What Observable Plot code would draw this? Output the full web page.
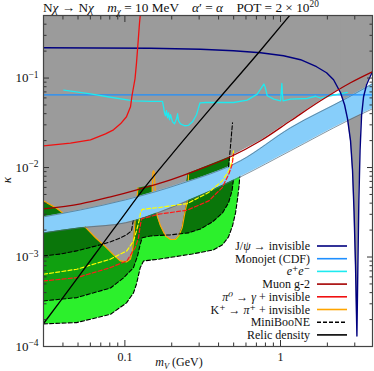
<!DOCTYPE html>
<html><head><meta charset="utf-8">
<script src="https://cdn.jsdelivr.net/npm/d3@7"></script>
<script src="https://cdn.jsdelivr.net/npm/@observablehq/plot@0.6"></script>
<style>html,body{margin:0;padding:0;background:#fff}svg{display:block}</style>
</head><body><div id="chart"></div>
<script>
const FONT = "'Liberation Serif','DejaVu Serif',serif";
// ---------- axes ----------
const xDomain = [0.03, 3.9];
const yDomain = [1e-4, 0.5];
const xMajor = [0.1, 1];
const xMajorLabels = ["0.1", "1"];
const xMinor = [0.04,0.05,0.06,0.07,0.08,0.09,0.2,0.3,0.4,0.5,0.6,0.7,0.8,0.9,2,3];
const yMajor = [1e-4, 1e-3, 1e-2, 1e-1];
const yMajorLabels = ["10⁻⁴", "10⁻³", "10⁻²", "10⁻¹"];
const yMinor = [2e-4,3e-4,4e-4,5e-4,6e-4,7e-4,8e-4,9e-4,
  2e-3,3e-3,4e-3,5e-3,6e-3,7e-3,8e-3,9e-3,
  2e-2,3e-2,4e-2,5e-2,6e-2,7e-2,8e-2,9e-2, 0.2,0.3,0.4];

// ---------- curves [m_V (GeV), kappa] ----------
const muonG2 = [[0.03,0.00345],[0.0519,0.00393],[0.0809,0.0047],[0.126,0.00578],[0.1965,0.00729],[0.3062,0.00967],[0.4774,0.0132],[0.7443,0.0199],[1.16,0.0333],[1.808,0.0557],[2.818,0.0886],[3.9,0.1176]];
const bandX = [0.03,0.0519,0.1009,0.2279,0.5537,1.16,2.696,3.9];
const bandTop = [0.00281,0.00336,0.00435,0.00657,0.0119,0.0278,0.0602,0.0863];
const bandBottom = [0.00186,0.00212,0.00241,0.00393,0.00787,0.0154,0.0333,0.0453];
const excludedLower = [[0.03,0.00424],[0.0364,0.0035],[0.0403,0.00307],[0.0519,0.00328],[0.0697,0.00363],[0.1009,0.00413],[0.1206,0.00458],[0.1215,0.00585],[0.1357,0.00608],[0.1495,0.00632],[0.1506,0.00508],[0.1965,0.00578],[0.2489,0.00657],[0.2546,0.0085],[0.3062,0.00967],[0.4774,0.0132],[0.7443,0.0199],[1.16,0.0333],[1.808,0.0557],[2.818,0.0886],[3.9,0.1176]];
const kaonGrayLeft = [[0.0567,0.00209,0.00267],[0.0648,0.00164,0.00281],[0.0751,0.0013,0.00296],[0.0858,0.00103,0.00311],[0.0937,0.000904,0.00328],[0.1024,0.000882,0.00345],[0.1087,0.000952,0.00354],[0.112,0.00117,0.00363],[0.1145,0.00172,0.00363],[0.117,0.00288,0.00373]];
const kaonGrayWindow = [[0.1585,0.00373,0.00424],[0.1613,0.00288,0.00435],[0.1694,0.00223,0.00447],[0.1824,0.00172,0.00458],[0.1965,0.00157,0.0047],[0.2115,0.00157,0.00482],[0.222,0.00172,0.00495],[0.2335,0.00213,0.00508],[0.2453,0.00342,0.00521],[0.2515,0.00406,0.00535],[0.2537,0.00508,0.00549]];
const kaonLine1 = [[0.03,0.00424],[0.0364,0.0035],[0.0403,0.00307],[0.0482,0.00257],[0.0567,0.00209],[0.0648,0.00164],[0.0751,0.0013],[0.0858,0.00103],[0.0937,0.000904],[0.1024,0.000882],[0.1087,0.000952],[0.112,0.00117],[0.1145,0.00172],[0.117,0.00288],[0.1188,0.00424],[0.1215,0.00593]];
const kaonLine2 = [[0.1495,0.00495],[0.1512,0.00873],[0.1528,0.00919],[0.1546,0.00873],[0.1573,0.00482],[0.1613,0.00288],[0.1694,0.00223],[0.1824,0.00172],[0.1965,0.00157],[0.2115,0.00157],[0.222,0.00172],[0.2335,0.00213],[0.2453,0.00342],[0.2515,0.00406],[0.2546,0.00549],[0.2564,0.00829]];
const jpsi = [[0.03,0.2183],[0.1462,0.2154],[0.3062,0.2099],[0.499,0.202],[0.7443,0.1919],[1.046,0.1776],[1.345,0.1602],[1.704,0.1338],[1.976,0.1146],[2.192,0.0957],[2.431,0.0685],[2.579,0.0503],[2.696,0.035],[2.818,0.0199],[2.903,0.00919],[2.968,0.00328],[3.034,0.000795],[3.097,0.000131],[3.141,0.000795],[3.187,0.00424],[3.244,0.0154],[3.317,0.0379],[3.417,0.0618],[3.573,0.0842],[3.735,0.1008],[3.9,0.1176]];
const jpsiDip = jpsi.slice(10);
const monojet = [0.065];
const eePlus = [[0.0405,0.0734],[0.0601,0.0667],[0.0809,0.061],[0.1136,0.0557],[0.1462,0.055],[0.1745,0.055],[0.1771,0.0478],[0.1798,0.0409],[0.1824,0.0379],[0.1852,0.0431],[0.1879,0.036],[0.1907,0.0409],[0.1936,0.0342],[0.1965,0.0389],[0.2024,0.0324],[0.2085,0.0308],[0.2148,0.035],[0.218,0.0399],[0.2212,0.0333],[0.2279,0.0308],[0.2417,0.0293],[0.2564,0.0296],[0.272,0.0324],[0.2886,0.0389],[0.2972,0.0465],[0.304,0.0529],[0.33,0.0533],[0.499,0.0533],[0.6111,0.0567],[0.7085,0.0662],[0.7816,0.0857],[0.7955,0.0799],[0.8218,0.0634],[0.9062,0.0582],[1.0006,0.0557],[1.0125,0.0721],[1.02,0.087],[1.0276,0.0685],[1.038,0.0557],[1.16,0.0582],[1.485,0.0591],[1.68,0.0626],[1.808,0.0597],[2.202,0.0645],[2.685,0.069]];
const pi0 = [[0.03,0.0175],[0.0447,0.0187],[0.0601,0.0204],[0.0751,0.0238],[0.0845,0.0264],[0.0937,0.0308],[0.1024,0.0369],[0.1087,0.0478],[0.1111,0.0634],[0.1162,0.0982],[0.1188,0.1483],[0.1215,0.2483],[0.1242,0.4155],[0.1255,0.498]];
const relic = [[0.0302,0.000183],[0.0386,0.000323],[0.0519,0.000647],[0.0697,0.0013],[0.0937,0.0026],[0.126,0.00521],[0.1965,0.0135],[0.3767,0.0516],[0.7225,0.1919],[1.143,0.498]];
// MiniBooNE contours
const mbLow = [[0.03,0.000179],[0.0489,0.000185],[0.0809,0.000229],[0.1024,0.000307],[0.1136,0.000397],[0.1188,0.0005],[0.1255,0.000761],[0.1318,0.000904],[0.1645,0.000945],[0.2709,0.00108],[0.3712,0.0012],[0.424,0.00137],[0.4634,0.00168],[0.4917,0.00223],[0.514,0.00311],[0.5297,0.00447],[0.5416,0.00624],[0.5495,0.00873]];
const mbMid = [[0.03,0.000323],[0.0491,0.000352],[0.0809,0.000451],[0.098,0.000584],[0.1136,0.000761],[0.1206,0.00103],[0.1255,0.00139],[0.1292,0.00164],[0.1462,0.00172],[0.1965,0.00177],[0.2564,0.00186],[0.3062,0.00206],[0.3657,0.00247],[0.424,0.00311],[0.4634,0.00403],[0.4882,0.00549],[0.499,0.00747]];
const mbHighLeft = [[0.03,0.00103],[0.0386,0.00108],[0.0489,0.00117],[0.0697,0.00137],[0.0809,0.00148],[0.0937,0.00164],[0.1024,0.00177],[0.1103,0.00196],[0.1145,0.00288]];
const mbHighRight = [[0.4634,0.0102],[0.4704,0.0132],[0.4774,0.0175],[0.4845,0.0238],[0.4917,0.0316]];
const lightGreenRegion = [...mbLow, [0.5495,0.00967],[0.4498,0.00919],[0.4498,0.5],[0.03,0.5]];
const midGreenRegion = [[0.03,0.000323],[0.0491,0.000352],[0.0809,0.000451],[0.098,0.000584],[0.1136,0.000761],[0.1206,0.00103],[0.1255,0.00139],[0.1288,0.00159],[0.1288,0.5],[0.03,0.5]];
const darkGreenRegion = [[0.03,0.00103],[0.0386,0.00108],[0.0489,0.00117],[0.0697,0.00137],[0.0809,0.00148],[0.0937,0.00164],[0.1024,0.00177],[0.1136,0.00159],[0.126,0.00151],[0.1292,0.00164],[0.1462,0.00172],[0.1965,0.00177],[0.2564,0.00186],[0.3062,0.00206],[0.3657,0.00247],[0.424,0.00311],[0.4634,0.00403],[0.4882,0.00549],[0.499,0.00747],[0.499,0.00967],[0.4704,0.00967],[0.4704,0.5],[0.03,0.5]];
const yellowDash = [[0.03,0.000642],[0.0491,0.00073],[0.0805,0.000945],[0.1029,0.00117],[0.1136,0.00151],[0.1188,0.00196],[0.1233,0.00253],[0.126,0.00311],[0.1292,0.00341],[0.1462,0.0035],[0.1652,0.00357],[0.2515,0.00396],[0.3447,0.00525],[0.4222,0.0071],[0.4656,0.00919],[0.4896,0.0119],[0.499,0.0154]];
const redDash = [[0.03,0.00054],[0.0491,0.000588],[0.0805,0.000761],[0.1029,0.000904],[0.1165,0.00127],[0.1224,0.00165],[0.1251,0.00217],[0.1279,0.00267],[0.1462,0.00284],[0.1652,0.00301],[0.2515,0.00334],[0.3463,0.00424],[0.4222,0.00597],[0.4656,0.00844],[0.4896,0.0109],[0.499,0.0142]];

// ---------- legend ----------
const legendLabels = ["J/ψ → invisible","Monojet (CDF)","e⁺e⁻","Muon g-2","π⁰ → γ + invisible","K⁺ → π⁺ + invisible","MiniBooNE","Relic density"];
const C = {
  gray:"#9b9b9b", band:"#87cefa", bandEdge:"#4d6a7c", dark:"#0a760a", mid:"#10a010", light:"#2cf02c",
  jpsi:"#00007f", mono:"#1e8fff", ee:"#1eeaf0", g2:"#a40000", pi0:"#f01010", kaon:"#ffa500",
  mb:"#000", relic:"#000"
};
const legendStyles = [
  {stroke:C.jpsi},{stroke:C.mono},{stroke:C.ee},{stroke:C.g2},{stroke:C.pi0},{stroke:C.kaon},{stroke:C.mb,dash:"4,2"},{stroke:C.relic}
];

const X = d => d[0], Y = d => d[1];
const bandTable = bandX.map((x, i) => ({x, lo: bandBottom[i], hi: bandTop[i]}));
const dash = "4,2.2";

function tickAxes(A, anchors, values, size) {
  return anchors.map(a => A(values, {anchor: a, tickSize: -size, tickFormat: () => "", label: null, stroke: "#333"}));
}

const chart = Plot.plot({
  width: 374, height: 371,
  marginLeft: 43, marginRight: 2, marginTop: 15, marginBottom: 25,
  x: {type: "log", domain: xDomain},
  y: {type: "log", domain: yDomain},
  style: {fontFamily: FONT, fontSize: "12px", color: "#111", background: "#fff"},
  marks: [
    Plot.line(lightGreenRegion, {x: X, y: Y, fill: C.light, stroke: "none", clip: true}),
    Plot.line(midGreenRegion, {x: X, y: Y, fill: C.mid, stroke: "none", clip: true}),
    Plot.line(darkGreenRegion, {x: X, y: Y, fill: C.dark, stroke: "none", clip: true}),
    Plot.areaY(excludedLower, {x: X, y1: Y, y2: yDomain[1], fill: C.gray, clip: true}),
    Plot.areaY(kaonGrayLeft, {x: d => d[0], y1: d => d[1], y2: d => d[2], fill: C.gray, clip: true}),
    Plot.areaY(kaonGrayWindow, {x: d => d[0], y1: d => d[1], y2: d => d[2], fill: C.gray, clip: true}),
    Plot.areaY(jpsiDip, {x: X, y1: Y, y2: yDomain[1], fill: C.gray, clip: true}),
    Plot.line(kaonLine1, {x: X, y: Y, stroke: C.kaon, strokeWidth: 1.2, clip: true}),
    Plot.line(kaonLine2, {x: X, y: Y, stroke: C.kaon, strokeWidth: 1.2, clip: true}),
    Plot.line(mbHighLeft, {x: X, y: Y, stroke: C.mb, strokeWidth: 1.1, strokeDasharray: dash, clip: true}),
    Plot.line(mbMid, {x: X, y: Y, stroke: C.mb, strokeWidth: 1.1, strokeDasharray: dash, clip: true}),
    Plot.line(mbLow, {x: X, y: Y, stroke: C.mb, strokeWidth: 1.1, strokeDasharray: dash, clip: true}),
    Plot.areaY(bandTable, {x: "x", y1: "lo", y2: "hi", fill: C.band, curve: "monotone-x", clip: true}),
    Plot.line(bandTable, {x: "x", y: "hi", stroke: C.bandEdge, strokeWidth: 0.7, curve: "monotone-x", clip: true}),
    Plot.line(bandTable, {x: "x", y: "lo", stroke: C.bandEdge, strokeWidth: 0.7, curve: "monotone-x", clip: true}),
    Plot.line(yellowDash, {x: X, y: Y, stroke: "#ffff00", strokeWidth: 1.2, strokeDasharray: dash, clip: true}),
    Plot.line(redDash, {x: X, y: Y, stroke: "#ff1a1a", strokeWidth: 1.2, strokeDasharray: dash, clip: true}),
    Plot.line(mbHighRight, {x: X, y: Y, stroke: C.mb, strokeWidth: 1.1, strokeDasharray: dash, clip: true}),
    Plot.ruleY(monojet, {stroke: C.mono, strokeWidth: 1.3}),
    Plot.line(eePlus, {x: X, y: Y, stroke: C.ee, strokeWidth: 1.3, clip: true}),
    Plot.line(jpsi, {x: X, y: Y, stroke: C.jpsi, strokeWidth: 1.4, clip: true}),
    Plot.line(muonG2, {x: X, y: Y, stroke: C.g2, strokeWidth: 1.3, curve: "monotone-x", clip: true}),
    Plot.line(pi0, {x: X, y: Y, stroke: C.pi0, strokeWidth: 1.3, clip: true}),
    Plot.line(relic, {x: X, y: Y, stroke: C.relic, strokeWidth: 1.3, curve: "monotone-x", clip: true}),
    ...tickAxes(Plot.axisY, ["left","right"], yMajor, 6),
    ...tickAxes(Plot.axisY, ["left","right"], yMinor, 3.5),
    ...tickAxes(Plot.axisX, ["bottom","top"], xMajor, 6),
    ...tickAxes(Plot.axisX, ["bottom","top"], xMinor, 3.5),
    Plot.axisY(yMajor, {anchor: "left", tickSize: 0, tickPadding: 5, label: null, fontSize: 13,
      tickFormat: d => yMajorLabels[yMajor.indexOf(d)]}),
    Plot.axisX(xMajor, {anchor: "bottom", tickSize: 0, tickPadding: 6, label: null, fontSize: 12,
      tickFormat: d => xMajorLabels[xMajor.indexOf(d)]}),
    Plot.frame({stroke: "#444", strokeWidth: 1.2})
  ]
});
document.getElementById("chart").append(chart);

// ---------- text with math styling ----------
const svg = d3.select(chart);
const supMap = {"⁻":"−","⁰":"0","¹":"1","²":"2","³":"3","⁴":"4"};
svg.selectAll("text").each(function() {
  const m = this.textContent.match(/^10([⁻⁰¹²³⁴]+)$/);
  if (!m) return;
  const t = d3.select(this); t.text("10");
  t.append("tspan").attr("dy", "-0.45em").attr("font-size", "9.5px").text([...m[1]].map(c => supMap[c]).join(""));
});

function rich(g, x, y, parts, size, anchor) {
  const t = g.append("text").attr("x", x).attr("y", y).attr("text-anchor", anchor || "start")
    .attr("font-family", FONT).attr("font-size", size).attr("fill", "#111").style("white-space", "pre");
  let shift = 0;
  for (const [s, st] of parts) {
    const ts = t.append("tspan").text(s);
    let target = 0;
    if (st.includes("sup")) target = -size * 0.36;
    else if (st.includes("sub")) target = size * 0.22;
    if (target) ts.attr("font-size", size * 0.7);
    if (st.startsWith("i")) ts.attr("font-style", "italic");
    const dy = target - shift;
    if (dy) ts.attr("dy", dy);
    shift = target;
  }
  return t;
}
const g = svg.append("g");
rich(g, 43, 12, [["N",""],["χ","i"],[" → N",""],["χ","i"],["    ",""],["m","i"],["χ","isub"],[" = 10 MeV    ",""],["α","i"],["′ = ",""],["α","i"],["    POT = 2 × 10",""],["20","sup"]], 13.3);
rich(g, 179, 366, [["m","i"],["V","isub"],[" (GeV)",""]], 12, "middle");
g.append("text").attr("transform", "translate(11,180) rotate(-90)").attr("text-anchor", "middle")
  .attr("font-family", FONT).attr("font-size", 13).attr("font-style", "italic").attr("fill", "#111").text("κ");

const legendParts = [
  [["J/",""],["ψ","i"],[" → invisible",""]],
  [["Monojet (CDF)",""]],
  [["e⁺e⁻","i"]],
  [["Muon g-2",""]],
  [["π⁰","i"],[" → ",""],["γ","i"],[" + invisible",""]],
  [["K⁺ → ",""],["π⁺","i"],[" + invisible",""]],
  [["MiniBooNE",""]],
  [["Relic density",""]]
];
legendLabels.forEach((lab, i) => {
  const yc = 246 + i * 12.7;
  rich(g, 310, yc + 4, legendParts[i], 12, "end");
  const s = legendStyles[i];
  g.append("line").attr("x1", 317).attr("x2", 347).attr("y1", yc).attr("y2", yc)
    .attr("stroke", s.stroke).attr("stroke-width", 1.6).attr("stroke-dasharray", s.dash || null);
});
</script></body></html>
